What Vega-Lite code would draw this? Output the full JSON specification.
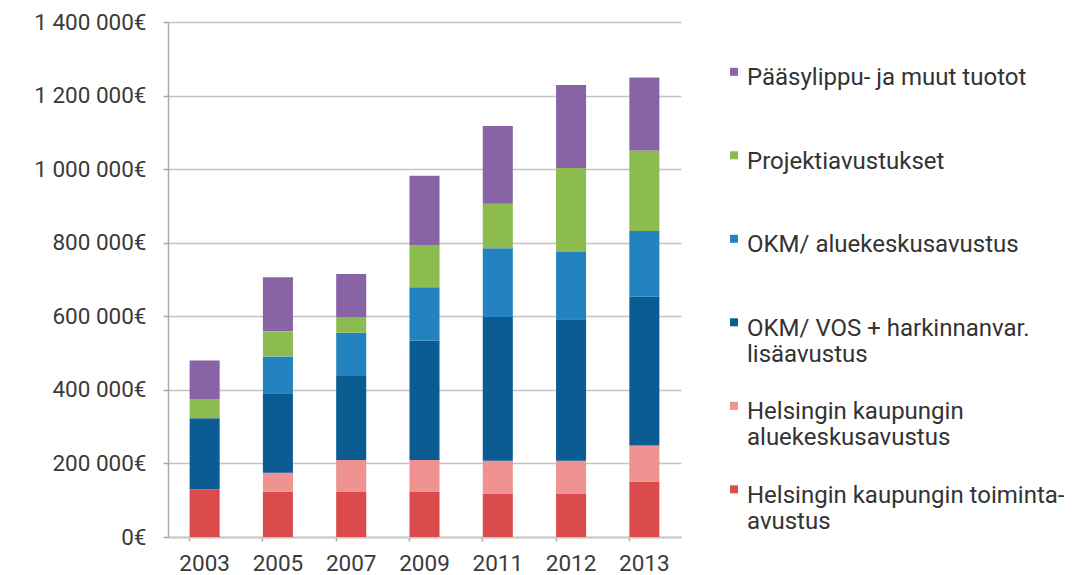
{
  "$schema": "https://vega.github.io/schema/vega-lite/v6.json",
  "width": 513,
  "height": 515,
  "autosize": {"type": "none"},
  "padding": {"left": 168, "top": 22, "right": 400, "bottom": 38},
  "background": "white",
  "data": {
    "values": [
      {"year": "2003", "series": "Helsingin kaupungin toiminta-|avustus", "value": 130000},
      {"year": "2003", "series": "Helsingin kaupungin|aluekeskusavustus", "value": 0},
      {"year": "2003", "series": "OKM/ VOS + harkinnanvar.|lisäavustus", "value": 193000},
      {"year": "2003", "series": "OKM/ aluekeskusavustus", "value": 0},
      {"year": "2003", "series": "Projektiavustukset", "value": 52000},
      {"year": "2003", "series": "Pääsylippu- ja muut tuotot", "value": 105000},
      {"year": "2005", "series": "Helsingin kaupungin toiminta-|avustus", "value": 124000},
      {"year": "2005", "series": "Helsingin kaupungin|aluekeskusavustus", "value": 51000},
      {"year": "2005", "series": "OKM/ VOS + harkinnanvar.|lisäavustus", "value": 216000},
      {"year": "2005", "series": "OKM/ aluekeskusavustus", "value": 100000},
      {"year": "2005", "series": "Projektiavustukset", "value": 68000},
      {"year": "2005", "series": "Pääsylippu- ja muut tuotot", "value": 147000},
      {"year": "2007", "series": "Helsingin kaupungin toiminta-|avustus", "value": 124000},
      {"year": "2007", "series": "Helsingin kaupungin|aluekeskusavustus", "value": 85000},
      {"year": "2007", "series": "OKM/ VOS + harkinnanvar.|lisäavustus", "value": 229000},
      {"year": "2007", "series": "OKM/ aluekeskusavustus", "value": 117000},
      {"year": "2007", "series": "Projektiavustukset", "value": 42000},
      {"year": "2007", "series": "Pääsylippu- ja muut tuotot", "value": 118000},
      {"year": "2009", "series": "Helsingin kaupungin toiminta-|avustus", "value": 124000},
      {"year": "2009", "series": "Helsingin kaupungin|aluekeskusavustus", "value": 85000},
      {"year": "2009", "series": "OKM/ VOS + harkinnanvar.|lisäavustus", "value": 325000},
      {"year": "2009", "series": "OKM/ aluekeskusavustus", "value": 145000},
      {"year": "2009", "series": "Projektiavustukset", "value": 115000},
      {"year": "2009", "series": "Pääsylippu- ja muut tuotot", "value": 188000},
      {"year": "2011", "series": "Helsingin kaupungin toiminta-|avustus", "value": 118000},
      {"year": "2011", "series": "Helsingin kaupungin|aluekeskusavustus", "value": 89000},
      {"year": "2011", "series": "OKM/ VOS + harkinnanvar.|lisäavustus", "value": 391000},
      {"year": "2011", "series": "OKM/ aluekeskusavustus", "value": 187000},
      {"year": "2011", "series": "Projektiavustukset", "value": 121000},
      {"year": "2011", "series": "Pääsylippu- ja muut tuotot", "value": 211000},
      {"year": "2012", "series": "Helsingin kaupungin toiminta-|avustus", "value": 118000},
      {"year": "2012", "series": "Helsingin kaupungin|aluekeskusavustus", "value": 89000},
      {"year": "2012", "series": "OKM/ VOS + harkinnanvar.|lisäavustus", "value": 385000},
      {"year": "2012", "series": "OKM/ aluekeskusavustus", "value": 183000},
      {"year": "2012", "series": "Projektiavustukset", "value": 228000},
      {"year": "2012", "series": "Pääsylippu- ja muut tuotot", "value": 226000},
      {"year": "2013", "series": "Helsingin kaupungin toiminta-|avustus", "value": 150000},
      {"year": "2013", "series": "Helsingin kaupungin|aluekeskusavustus", "value": 99000},
      {"year": "2013", "series": "OKM/ VOS + harkinnanvar.|lisäavustus", "value": 404000},
      {"year": "2013", "series": "OKM/ aluekeskusavustus", "value": 179000},
      {"year": "2013", "series": "Projektiavustukset", "value": 219000},
      {"year": "2013", "series": "Pääsylippu- ja muut tuotot", "value": 198000}
    ]
  },
  "mark": {"type": "bar"},
  "encoding": {
    "x": {
      "field": "year",
      "type": "ordinal",
      "scale": {"paddingInner": 0.59, "paddingOuter": 0.295},
      "axis": {
        "title": null,
        "labelAngle": 0,
        "labelFontSize": 22.5,
        "labelColor": "#3A3A3A",
        "tickSize": 4,
        "tickColor": "#AAAAAA",
        "tickWidth": 1.5,
        "bandPosition": 0,
        "domainColor": "#C8C8C8",
        "domainWidth": 2,
        "labelPadding": 11,
        "grid": false
      }
    },
    "y": {
      "field": "value",
      "type": "quantitative",
      "stack": "zero",
      "scale": {"domain": [0, 1400000], "nice": false},
      "axis": {
        "title": null,
        "values": [0, 200000, 400000, 600000, 800000, 1000000, 1200000, 1400000],
        "labelExpr": "replace(replace(format(datum.value, ','), ',', ' '), ',', ' ') + '€'",
        "grid": true,
        "gridColor": "#C4C4C4",
        "gridWidth": 1.5,
        "domain": true,
        "domainColor": "#AAAAAA",
        "domainWidth": 1.5,
        "tickColor": "#AAAAAA",
        "tickSize": 5,
        "tickWidth": 1.5,
        "labelPadding": 17,
        "labelFontSize": 22.5,
        "labelColor": "#3A3A3A"
      }
    },
    "color": {
      "field": "series",
      "type": "nominal",
      "sort": null,
      "scale": {
        "domain": [
          "Pääsylippu- ja muut tuotot",
          "Projektiavustukset",
          "OKM/ aluekeskusavustus",
          "OKM/ VOS + harkinnanvar.|lisäavustus",
          "Helsingin kaupungin|aluekeskusavustus",
          "Helsingin kaupungin toiminta-|avustus"
        ],
        "range": ["#8863A5", "#8CBB50", "#2382C0", "#0B5C92", "#EE9292", "#DB4B4B"]
      },
      "legend": {
        "title": null,
        "orient": "none",
        "legendX": 554,
        "legendY": 32,
        "padding": 0,
        "symbolType": "M-1,0.45H1V2.45H-1Z",
        "symbolSize": 64,
        "symbolStrokeWidth": 0,
        "labelFontSize": 24,
        "labelLineHeight": 29,
        "labelBaseline": "top",
        "labelOffset": 1,
        "labelLimit": 400,
        "labelColor": "#333333",
        "rowPadding": 21.5,
        "gridAlign": "all",
        "labelExpr": "split(datum.label, '|')"
      }
    },
    "order": {"field": "series", "sort": "ascending"}
  },
  "config": {"view": {"stroke": null}, "font": "Roboto"}
}
